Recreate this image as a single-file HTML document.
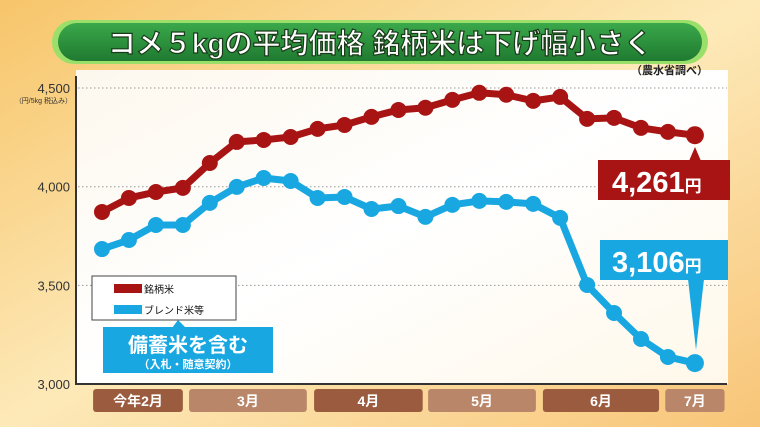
<!DOCTYPE html>
<html><head><meta charset="utf-8"><style>
body{margin:0;width:760px;height:427px;overflow:hidden;font-family:"Liberation Sans","Noto Sans CJK JP",sans-serif;}
</style></head><body>
<svg width="760" height="427" viewBox="0 0 760 427" xmlns="http://www.w3.org/2000/svg">
<defs>
<linearGradient id="bg" x1="0" y1="0" x2="1" y2="1">
<stop offset="0" stop-color="#f7c56a"/><stop offset="0.5" stop-color="#fde9b8"/><stop offset="1" stop-color="#f8c578"/></linearGradient>
<linearGradient id="plot" x1="0" y1="0" x2="1" y2="1">
<stop offset="0" stop-color="#fdf8ee"/><stop offset="0.5" stop-color="#ffffff"/><stop offset="1" stop-color="#fff8ea"/></linearGradient>
<linearGradient id="gr" x1="0" y1="0" x2="0" y2="1">
<stop offset="0" stop-color="#3aa84a"/><stop offset="1" stop-color="#1f7a30"/></linearGradient>
</defs>
<rect width="760" height="427" fill="url(#bg)"/>
<rect x="76" y="70" width="652" height="314" fill="url(#plot)"/>
<g>
<rect x="52" y="20" width="656" height="44" rx="22" fill="#9adf6a"/>
<rect x="58" y="23" width="644" height="38" rx="19" fill="url(#gr)"/>
<text x="380" y="53" text-anchor="middle" font-size="28" font-weight="bold" fill="#fff" stroke="#1a3a1a" stroke-width="1.2">コメ５kgの平均価格  銘柄米は下げ幅小さく</text>
</g>
<text x="708" y="74" text-anchor="end" font-size="11" font-weight="bold" fill="#222">（農水省調べ）</text>
<g id="grid"></g>
<g id="axis"></g>
<g id="months"></g>
<g id="series"></g>
<g>
<rect x="92" y="276" width="144" height="44" fill="#fff" stroke="#444" stroke-width="1"/>
<rect x="114" y="284" width="28" height="9" fill="#a81414"/>
<text x="144" y="293" font-size="10" fill="#111">銘柄米</text>
<rect x="114" y="305" width="28" height="9" fill="#19a7e2"/>
<text x="144" y="314" font-size="10" fill="#111">ブレンド米等</text>
</g>
<g>
<polygon points="178,320 172,328 186,328" fill="#19a7e2"/>
<rect x="103" y="327" width="170" height="46" fill="#19a7e2"/>
<text x="188" y="352" text-anchor="middle" font-size="20" font-weight="bold" fill="#fff">備蓄米を含む</text>
<text x="188" y="368" text-anchor="middle" font-size="11" font-weight="bold" fill="#fff">（入札・随意契約）</text>
</g>
<g>
<polygon points="695,147 689,161 701,161" fill="#a81414"/>
<rect x="598" y="160" width="132" height="40" fill="#a81414"/>
<text x="612" y="192" font-size="29" font-weight="bold" fill="#fff">4,261<tspan font-size="17">円</tspan></text>
</g>
<g>
<polygon points="688,279 704,279 696,350" fill="#19a7e2"/>
<rect x="600" y="240" width="128" height="40" fill="#19a7e2"/>
<text x="612" y="272" font-size="29" font-weight="bold" fill="#fff">3,106<tspan font-size="17">円</tspan></text>
</g>
</svg>
<script>
const yTicks=[3000,3500,4000,4500];
const yTickLabels=["3,000","3,500","4,000","4,500"];
const months=["今年2月","3月","4月","5月","6月","7月"];
const monthStart=[-0.33,3.23,7.87,12.1,16.36,20.9];
const monthEnd=[3.0,7.6,11.9,16.1,20.67,23.1];
const brandRice=[3872,3943,3973,3994,4120,4227,4237,4252,4293,4313,4354,4389,4400,4440,4476,4466,4435,4455,4344,4349,4298,4278,4261];
const blendRice=[3684,3730,3806,3806,3918,3999,4044,4029,3943,3948,3887,3902,3847,3908,3928,3923,3913,3842,3502,3360,3228,3137,3106];
const NS="http://www.w3.org/2000/svg";
function yS(v){return 384-(v-3000)*0.1973;}
function xS(i){return 102+i*26.95;}
function mk(tag,attrs,parent){const e=document.createElementNS(NS,tag);for(const k in attrs)e.setAttribute(k,attrs[k]);parent.appendChild(e);return e;}
const grid=document.getElementById('grid'),axis=document.getElementById('axis'),mg=document.getElementById('months'),sg=document.getElementById('series');
yTicks.forEach((t,i)=>{
  if(t>3000){const l=mk('line',{x1:78,x2:727,y1:yS(t),y2:yS(t),stroke:'#999','stroke-dasharray':'1.5,2.5','stroke-width':1},grid);
  
  }
  const tx=mk('text',{x:70,y:yS(t)+5,'text-anchor':'end','font-size':13,fill:'#333'},axis);
  tx.textContent=yTickLabels[i];
  
  
});
const unit=mk('text',{x:72,y:yS(4500)+15,'text-anchor':'end','font-size':7,fill:'#333'},axis);
unit.textContent='（円/5kg 税込み）';


const ya=mk('line',{x1:76,x2:76,y1:76,y2:385,stroke:'#333','stroke-width':2},axis);


const xa=mk('line',{x1:75,x2:727,y1:384,y2:384,stroke:'#333','stroke-width':2},axis);


months.forEach((m,i)=>{
  const x0=xS(monthStart[i]),x1=xS(monthEnd[i]);
  const r=mk('rect',{x:x0,y:389,width:x1-x0,height:23,rx:3,fill:i%2?'#b9866a':'#9a5b3e'},mg);
  
  
  const t=mk('text',{x:(x0+x1)/2,y:406,'text-anchor':'middle','font-size':14,'font-weight':'bold',fill:'#fff'},mg);
  t.textContent=m;
  
  
});
function drawSeries(data,color,name){
  const pts=data.map((v,i)=>xS(i)+','+yS(v)).join(' ');
  const pl=mk('polyline',{points:pts,fill:'none',stroke:color,'stroke-width':7,'stroke-linejoin':'round'},sg);
  
  
  data.forEach((v,i)=>{
    const c=mk('circle',{cx:xS(i),cy:yS(v),r:i===data.length-1?9:8,fill:color},sg);
    
    
  });
}
drawSeries(brandRice,'#a81414','brand-rice');
drawSeries(blendRice,'#19a7e2','blend-rice');
</script>
</body></html>
